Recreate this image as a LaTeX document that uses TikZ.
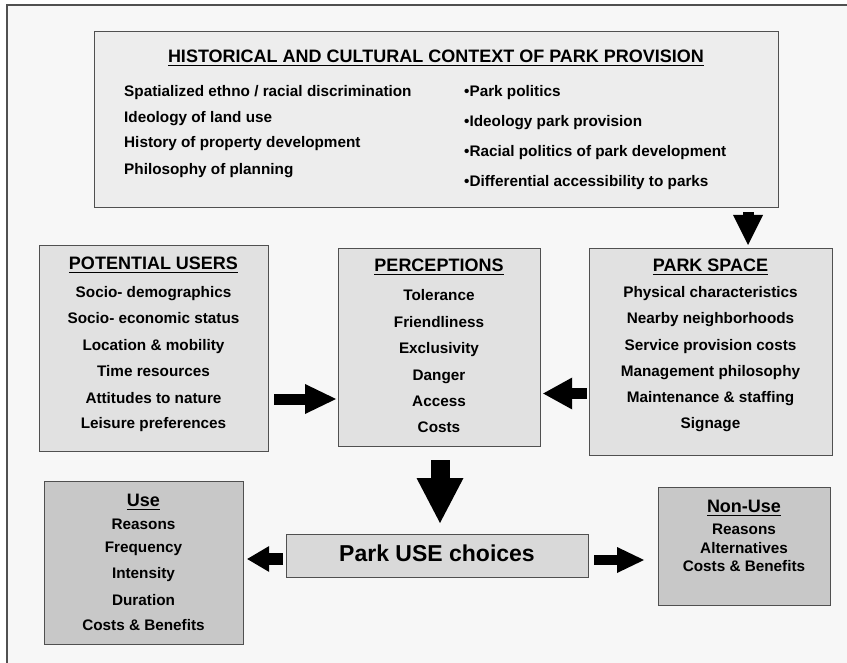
\documentclass[tikz,border=0pt]{standalone}
\usepackage{fontspec}
\setmainfont{Liberation Sans}
\usetikzlibrary{calc,arrows.meta}
\definecolor{bgc}{HTML}{F7F7F7}
\definecolor{topfill}{HTML}{EDEDED}
\definecolor{midfill}{HTML}{E1E1E1}
\definecolor{usefill}{HTML}{C8C8C8}
\definecolor{pucfill}{HTML}{D9D9D9}
\definecolor{boxline}{HTML}{505050}
\newcommand\myul[1]{\setbox0\hbox{#1}\rlap{\rule[-3.5pt]{\wd0}{1.3pt}}\box0}
\tikzset{
  box/.style={draw=boxline, line width=1.2pt, inner sep=0pt, anchor=north west, rectangle},
  ttl/.style={font=\fontsize{18}{20}\selectfont\bfseries, anchor=base, inner sep=0pt, text=black},
  itm/.style={font=\fontsize{15.3}{17}\selectfont\bfseries, anchor=base, inner sep=0pt, text=black},
  itmL/.style={itm, anchor=base west},
}
\begin{document}
\begin{tikzpicture}[x=1pt,y=-1pt]
\useasboundingbox (0,0) rectangle (847,663);
\fill[white] (0,0) rectangle (847,663);
\fill[bgc] (7,5) rectangle (847,663);
\draw[boxline, line width=1.2pt] (7,663) -- (7,5) -- (847,5);

% boxes
\node[box, fill=topfill, minimum width=684pt, minimum height=176pt] (Top) at (94,31) {};
\node[box, fill=midfill, minimum width=229pt, minimum height=206pt] (PU) at (39,245) {};
\node[box, fill=midfill, minimum width=202pt, minimum height=198pt] (Perc) at (338,248) {};
\node[box, fill=midfill, minimum width=243pt, minimum height=207pt] (PS) at (589,248) {};
\node[box, fill=usefill, minimum width=199pt, minimum height=163pt] (Use) at (44,481) {};
\node[box, fill=pucfill, minimum width=302pt, minimum height=43pt] (PUC) at (286,534) {};
\node[box, fill=usefill, minimum width=172pt, minimum height=118pt] (NU) at (658,487) {};

% top box text
\node[ttl] (TopT) at (436,63) {\myul{HISTORICAL AND CULTURAL CONTEXT OF PARK PROVISION}};
\node[itmL] (TL1) at (124,96.5) {Spatialized ethno / racial discrimination};
\node[itmL] (TL2) at (124,122.5) {Ideology of land use};
\node[itmL] (TL3) at (124,147.5) {History of property development};
\node[itmL] (TL4) at (124,174.5) {Philosophy of planning};
\node[itmL] (TR1) at (464,96.5) {•Park politics};
\node[itmL] (TR2) at (464,126.5) {•Ideology park provision};
\node[itmL] (TR3) at (464,156.5) {•Racial politics of park development};
\node[itmL] (TR4) at (464,186.5) {•Differential accessibility to parks};

% potential users
\node[ttl] (PUT) at (153.5,269.5) {\myul{POTENTIAL USERS}};
\node[itm] (PU1) at (153.5,297.5) {Socio- demographics};
\node[itm] (PU2) at (153.5,323.5) {Socio- economic status};
\node[itm] (PU3) at (153.5,350.5) {Location \& mobility};
\node[itm] (PU4) at (153.5,376.5) {Time resources};
\node[itm] (PU5) at (153.5,403.5) {Attitudes to nature};
\node[itm] (PU6) at (153.5,428.5) {Leisure preferences};

% perceptions
\node[ttl] (PeT) at (439,271.5) {\myul{PERCEPTIONS}};
\node[itm] (Pe1) at (439,300.5) {Tolerance};
\node[itm] (Pe2) at (439,327.5) {Friendliness};
\node[itm] (Pe3) at (439,353.5) {Exclusivity};
\node[itm] (Pe4) at (439,380.5) {Danger};
\node[itm] (Pe5) at (439,406.5) {Access};
\node[itm] (Pe6) at (439,432.5) {Costs};

% park space
\node[ttl] (PST) at (710.5,271.5) {\myul{PARK SPACE}};
\node[itm] (PS1) at (710.5,297.5) {Physical characteristics};
\node[itm] (PS2) at (710.5,323.5) {Nearby neighborhoods};
\node[itm] (PS3) at (710.5,350.5) {Service provision costs};
\node[itm] (PS4) at (710.5,376.5) {Management philosophy};
\node[itm] (PS5) at (710.5,402.5) {Maintenance \& staffing};
\node[itm] (PS6) at (710.5,428.5) {Signage};

% use
\node[ttl] (UT) at (143.5,506.5) {\myul{Use}};
\node[itm] (U1) at (143.5,529.5) {Reasons};
\node[itm] (U2) at (143.5,552.5) {Frequency};
\node[itm] (U3) at (143.5,578.5) {Intensity};
\node[itm] (U4) at (143.5,605.5) {Duration};
\node[itm] (U5) at (143.5,630.5) {Costs \& Benefits};

% park use choices
\node[ttl, font=\fontsize{23}{25}\selectfont\bfseries] (PUCT) at (437,561) {Park USE choices};

% non-use
\node[ttl] (NT) at (744,512.5) {\myul{Non-Use}};
\node[itm] (N1) at (744,534.5) {Reasons};
\node[itm] (N2) at (744,553.5) {Alternatives};
\node[itm] (N3) at (744,571.5) {Costs \& Benefits};

% arrows
\coordinate (X1) at (748,0);
\coordinate (Y2) at (0,399);
\coordinate (Y3) at (0,393.5);
\coordinate (X4) at (440,0);
\coordinate (Y5) at (0,559);
\coordinate (Y6) at (0,560);

\draw[line width=11pt, -{Triangle[length=30pt,width=30pt,line width=0pt]}]
  ($(Top.south -| X1)+(0,4)$) -- ($(PS.north -| X1)+(0,-3)$);
\draw[line width=11pt, -{Triangle[length=31pt,width=30pt,line width=0pt]}]
  ($(PU.east |- Y2)+(5,0)$) -- ($(Perc.west |- Y2)+(-2,0)$);
\draw[line width=11pt, -{Triangle[length=29pt,width=32pt,line width=0pt]}]
  ($(PS.west |- Y3)+(-2,0)$) -- ($(Perc.east |- Y3)+(2,0)$);
\draw[line width=19pt, -{Triangle[length=45pt,width=47pt,line width=0pt]}]
  ($(Perc.south -| X4)+(0,13)$) -- ($(PUC.north -| X4)+(0,-11)$);
\draw[line width=12pt, -{Triangle[length=22pt,width=26pt,line width=0pt]}]
  ($(PUC.west |- Y5)+(-3,0)$) -- ($(Use.east |- Y5)+(3,0)$);
\draw[line width=10pt, -{Triangle[length=27pt,width=26pt,line width=0pt]}]
  ($(PUC.east |- Y6)+(5,0)$) -- ($(NU.west |- Y6)+(-14,0)$);
\end{tikzpicture}
\end{document}
